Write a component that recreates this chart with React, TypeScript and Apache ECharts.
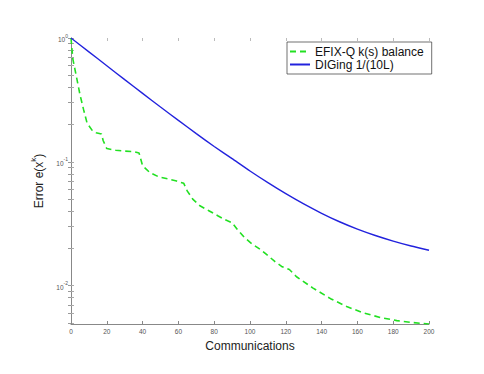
import React, { useEffect, useRef } from "react";
import * as echarts from "echarts";

const efixX = [0, 1, 3, 5, 7, 9, 12, 14, 17, 18, 20, 25, 30, 35, 38, 40, 44, 49, 54, 59, 63, 65, 68, 72, 77, 82, 86, 90, 93, 97, 101, 106, 110, 114, 118, 122, 126, 135, 145, 154, 163, 173, 182, 191, 200];
const efixY = [1.0, 0.68, 0.49, 0.35, 0.265, 0.205, 0.178, 0.172, 0.168, 0.148, 0.128, 0.124, 0.122, 0.121, 0.118, 0.093, 0.082, 0.0756, 0.073, 0.07, 0.067, 0.058, 0.05, 0.0442, 0.0403, 0.0367, 0.0341, 0.0322, 0.0283, 0.0244, 0.0218, 0.0195, 0.0175, 0.0156, 0.0142, 0.0135, 0.0118, 0.0096, 0.00785, 0.00678, 0.00605, 0.00552, 0.00522, 0.00503, 0.0049];

const digX = [0, 10, 20, 30, 40, 50, 60, 70, 80, 90, 100, 110, 120, 130, 140, 150, 160, 170, 180, 190, 200];
const digY = [1.0, 0.773, 0.597, 0.461, 0.357, 0.277, 0.216, 0.169, 0.133, 0.106, 0.0843, 0.0679, 0.0553, 0.0457, 0.0384, 0.0328, 0.0286, 0.0254, 0.0229, 0.0209, 0.0193];

const seriesNames = ["EFIX-Q k(s) balance", "DIGing 1/(10L)"];
const xTicks = [0, 20, 40, 60, 80, 100, 120, 140, 160, 180, 200];
const yMin = 0.0049;
const yMax = 1;
const logTickValues = [0.005, 0.006, 0.007, 0.008, 0.009, 0.01, 0.02, 0.03, 0.04, 0.05, 0.06, 0.07, 0.08, 0.09, 0.1, 0.2, 0.3, 0.4, 0.5, 0.6, 0.7, 0.8, 0.9, 1];

const FONT = "Liberation Sans, Arial, sans-serif";

function logLabel(v: number) {
  const l = Math.log10(v);
  const n = Math.round(l);
  if (Math.abs(l - n) > 1e-6) return "";
  return `{b|10}{s|${n}}`;
}

export default function App() {
  const ref = useRef<HTMLDivElement>(null);
  useEffect(() => {
    if (!ref.current) return;
    const chart = echarts.init(ref.current, undefined, { renderer: "svg" });
    const xAxisBase = {
      type: "value" as const,
      min: xTicks[0],
      max: xTicks[xTicks.length - 1],
      interval: 20,
      splitLine: { show: false },
    };
    const yAxisBase = {
      type: "log" as const,
      logBase: 10,
      min: yMin,
      max: yMax,
      splitLine: { show: false },
      minorTick: { show: false },
    };
    chart.setOption({
      animation: false,
      backgroundColor: "#ffffff",
      textStyle: { fontFamily: FONT },
      grid: { left: 71, right: 55, top: 38, bottom: 50, containLabel: false },
      legend: {
        orient: "vertical",
        left: 287,
        top: 42,
        padding: [3, 8, 3, 2],
        itemWidth: 20,
        itemHeight: 8,
        itemGap: 0,
        borderColor: "#333",
        borderWidth: 0.7,
        backgroundColor: "#ffffff",
        itemStyle: { opacity: 0 },
        textStyle: { fontSize: 12, color: "#111", fontFamily: FONT, lineHeight: 13 },
        data: seriesNames,
      },
      xAxis: [
        {
          ...xAxisBase,
          position: "bottom",
          name: "Communications",
          nameLocation: "middle",
          nameGap: 13,
          nameTextStyle: { fontSize: 12, color: "#222", fontFamily: FONT },
          axisLine: { show: true, lineStyle: { color: "#888", width: 1 } },
          axisTick: { show: true, inside: true, length: 3, lineStyle: { color: "#888" } },
          axisLabel: { fontSize: 6.5, color: "#555", margin: 4, fontFamily: FONT },
        },
        {
          ...xAxisBase,
          position: "top",
          axisLine: { show: false },
          axisTick: { show: true, inside: true, length: 3, lineStyle: { color: "#bbb" } },
          axisLabel: { show: false },
        },
      ],
      yAxis: [
        {
          ...yAxisBase,
          position: "left",
          name: "{a|Error e(x}{s|k}{a|)}",
          nameLocation: "middle",
          nameGap: 16,
          nameTextStyle: {
            fontFamily: FONT,
            rich: {
              a: { fontSize: 12, color: "#222", fontFamily: FONT, lineHeight: 16, verticalAlign: "bottom" },
              s: { fontSize: 8, color: "#222", fontFamily: FONT, lineHeight: 16, verticalAlign: "top" },
            },
          },
          axisLine: { show: true, lineStyle: { color: "#eeeeee", width: 1 } },
          axisTick: { show: true, inside: true, length: 3, lineStyle: { color: "#aaa" }, customValues: logTickValues },
          axisLabel: {
            margin: 3,
            formatter: logLabel,
            rich: {
              b: { fontSize: 6.5, color: "#555", fontFamily: FONT, lineHeight: 10, verticalAlign: "bottom" },
              s: { fontSize: 5, color: "#555", fontFamily: FONT, lineHeight: 10, verticalAlign: "top" },
            },
          },
        },
        {
          ...yAxisBase,
          position: "right",
          axisLine: { show: true, lineStyle: { color: "#888", width: 1 } },
          axisTick: { show: true, inside: true, length: 3, lineStyle: { color: "#999" }, customValues: logTickValues },
          axisLabel: { show: false },
        },
      ],
      series: [
        {
          name: seriesNames[0],
          type: "line",
          xAxisIndex: 0,
          yAxisIndex: 0,
          data: efixX.map((x, i) => [x, efixY[i]]),
          symbol: "none",
          lineStyle: { color: "#22e022", width: 1.6, type: [6, 4] },
          itemStyle: { color: "#22e022" },
        },
        {
          name: seriesNames[1],
          type: "line",
          xAxisIndex: 0,
          yAxisIndex: 0,
          data: digX.map((x, i) => [x, digY[i]]),
          symbol: "none",
          smooth: 0.2,
          lineStyle: { color: "#2222dd", width: 1.4 },
          itemStyle: { color: "#2222dd" },
        },
      ],
    });
    return () => chart.dispose();
  }, []);
  return (
    <div
      ref={ref}
      style={{ position: "absolute", left: 0, top: 0, width: 484, height: 374, background: "#fff" }}
    />
  );
}
